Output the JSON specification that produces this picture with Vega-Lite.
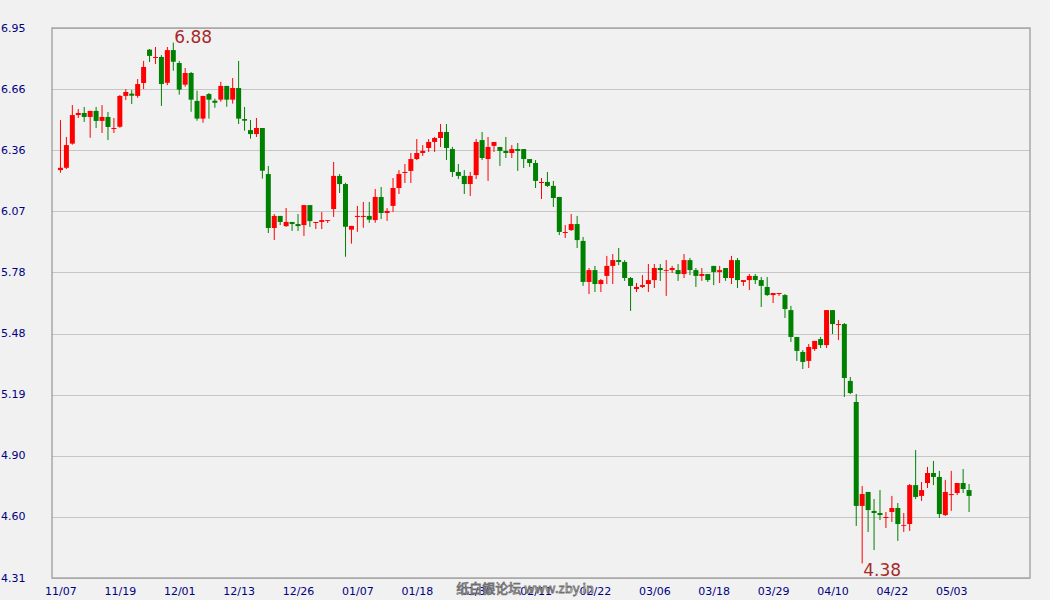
{
"$schema": "https://vega.github.io/schema/vega-lite/v6.json",
"width": 978, "height": 550,
"autosize": {"type": "none"},
"padding": {"left": 52, "top": 28, "right": 20, "bottom": 22},
"background": "#f1f1f1",
"config": {"view": {"stroke": "#a8a8a8", "strokeWidth": 1.5, "fill": "#f1f1f1"}, "font": "DejaVu Sans"},
"datasets": {"k": [
{"i":0,"o":6.268,"h":6.508,"l":6.255,"c":6.279},
{"i":1,"o":6.279,"h":6.427,"l":6.273,"c":6.388},
{"i":2,"o":6.395,"h":6.580,"l":6.390,"c":6.532},
{"i":3,"o":6.532,"h":6.561,"l":6.518,"c":6.542},
{"i":4,"o":6.542,"h":6.571,"l":6.499,"c":6.523},
{"i":5,"o":6.523,"h":6.552,"l":6.423,"c":6.552},
{"i":6,"o":6.552,"h":6.571,"l":6.470,"c":6.504},
{"i":7,"o":6.504,"h":6.580,"l":6.446,"c":6.523},
{"i":8,"o":6.523,"h":6.547,"l":6.412,"c":6.475},
{"i":9,"o":6.465,"h":6.518,"l":6.446,"c":6.470},
{"i":10,"o":6.476,"h":6.628,"l":6.471,"c":6.624},
{"i":11,"o":6.624,"h":6.657,"l":6.604,"c":6.643},
{"i":12,"o":6.635,"h":6.652,"l":6.585,"c":6.625},
{"i":13,"o":6.624,"h":6.705,"l":6.615,"c":6.681},
{"i":14,"o":6.686,"h":6.792,"l":6.657,"c":6.763},
{"i":15,"o":6.846,"h":6.849,"l":6.787,"c":6.816},
{"i":16,"o":6.806,"h":6.859,"l":6.777,"c":6.811},
{"i":17,"o":6.811,"h":6.820,"l":6.576,"c":6.681},
{"i":18,"o":6.687,"h":6.859,"l":6.676,"c":6.844},
{"i":19,"o":6.844,"h":6.880,"l":6.745,"c":6.788},
{"i":20,"o":6.782,"h":6.792,"l":6.630,"c":6.654},
{"i":21,"o":6.678,"h":6.758,"l":6.668,"c":6.734},
{"i":22,"o":6.734,"h":6.739,"l":6.548,"c":6.606},
{"i":23,"o":6.600,"h":6.649,"l":6.505,"c":6.515},
{"i":24,"o":6.515,"h":6.624,"l":6.495,"c":6.624},
{"i":25,"o":6.633,"h":6.638,"l":6.515,"c":6.606},
{"i":26,"o":6.601,"h":6.611,"l":6.567,"c":6.591},
{"i":27,"o":6.606,"h":6.692,"l":6.596,"c":6.672},
{"i":28,"o":6.672,"h":6.672,"l":6.572,"c":6.606},
{"i":29,"o":6.606,"h":6.710,"l":6.587,"c":6.662},
{"i":30,"o":6.662,"h":6.792,"l":6.489,"c":6.515},
{"i":31,"o":6.513,"h":6.571,"l":6.457,"c":6.505},
{"i":32,"o":6.460,"h":6.508,"l":6.419,"c":6.441},
{"i":33,"o":6.441,"h":6.518,"l":6.427,"c":6.470},
{"i":34,"o":6.470,"h":6.470,"l":6.227,"c":6.265},
{"i":35,"o":6.249,"h":6.288,"l":5.966,"c":5.990},
{"i":36,"o":5.990,"h":6.057,"l":5.932,"c":6.048},
{"i":37,"o":6.048,"h":6.048,"l":6.004,"c":6.019},
{"i":38,"o":5.999,"h":6.086,"l":5.995,"c":6.019},
{"i":39,"o":6.019,"h":6.019,"l":5.976,"c":6.009},
{"i":40,"o":6.009,"h":6.057,"l":5.976,"c":5.999},
{"i":41,"o":6.004,"h":6.100,"l":5.952,"c":6.100},
{"i":42,"o":6.100,"h":6.100,"l":5.995,"c":6.023},
{"i":43,"o":6.014,"h":6.019,"l":5.985,"c":6.019},
{"i":44,"o":6.019,"h":6.067,"l":5.985,"c":6.028},
{"i":45,"o":6.024,"h":6.028,"l":6.014,"c":6.028},
{"i":46,"o":6.081,"h":6.307,"l":6.043,"c":6.240},
{"i":47,"o":6.240,"h":6.249,"l":6.158,"c":6.201},
{"i":48,"o":6.201,"h":6.207,"l":5.852,"c":5.996},
{"i":49,"o":5.982,"h":6.000,"l":5.915,"c":6.000},
{"i":50,"o":6.043,"h":6.096,"l":5.972,"c":6.048},
{"i":51,"o":6.043,"h":6.115,"l":5.991,"c":6.048},
{"i":52,"o":6.048,"h":6.115,"l":6.015,"c":6.030},
{"i":53,"o":6.028,"h":6.177,"l":6.015,"c":6.139},
{"i":54,"o":6.139,"h":6.187,"l":6.033,"c":6.062},
{"i":55,"o":6.062,"h":6.086,"l":6.024,"c":6.072},
{"i":56,"o":6.096,"h":6.230,"l":6.067,"c":6.182},
{"i":57,"o":6.182,"h":6.268,"l":6.153,"c":6.249},
{"i":58,"o":6.254,"h":6.297,"l":6.206,"c":6.259},
{"i":59,"o":6.264,"h":6.350,"l":6.206,"c":6.321},
{"i":60,"o":6.321,"h":6.417,"l":6.316,"c":6.350},
{"i":61,"o":6.350,"h":6.388,"l":6.336,"c":6.360},
{"i":62,"o":6.374,"h":6.417,"l":6.355,"c":6.403},
{"i":63,"o":6.403,"h":6.427,"l":6.355,"c":6.422},
{"i":64,"o":6.422,"h":6.489,"l":6.379,"c":6.451},
{"i":65,"o":6.451,"h":6.489,"l":6.316,"c":6.374},
{"i":66,"o":6.369,"h":6.379,"l":6.235,"c":6.259},
{"i":67,"o":6.259,"h":6.297,"l":6.225,"c":6.240},
{"i":68,"o":6.240,"h":6.268,"l":6.153,"c":6.201},
{"i":69,"o":6.201,"h":6.259,"l":6.144,"c":6.240},
{"i":70,"o":6.244,"h":6.417,"l":6.225,"c":6.403},
{"i":71,"o":6.412,"h":6.451,"l":6.316,"c":6.326},
{"i":72,"o":6.321,"h":6.427,"l":6.216,"c":6.379},
{"i":73,"o":6.384,"h":6.403,"l":6.355,"c":6.403},
{"i":74,"o":6.379,"h":6.379,"l":6.288,"c":6.360},
{"i":75,"o":6.360,"h":6.427,"l":6.326,"c":6.350},
{"i":76,"o":6.350,"h":6.388,"l":6.326,"c":6.369},
{"i":77,"o":6.369,"h":6.398,"l":6.264,"c":6.360},
{"i":78,"o":6.369,"h":6.369,"l":6.278,"c":6.321},
{"i":79,"o":6.321,"h":6.321,"l":6.283,"c":6.302},
{"i":80,"o":6.302,"h":6.316,"l":6.182,"c":6.216},
{"i":81,"o":6.206,"h":6.230,"l":6.129,"c":6.211},
{"i":82,"o":6.211,"h":6.259,"l":6.187,"c":6.192},
{"i":83,"o":6.192,"h":6.216,"l":6.091,"c":6.134},
{"i":84,"o":6.139,"h":6.139,"l":5.956,"c":5.971},
{"i":85,"o":5.966,"h":6.004,"l":5.942,"c":5.971},
{"i":86,"o":5.980,"h":6.057,"l":5.976,"c":6.009},
{"i":87,"o":6.009,"h":6.048,"l":5.894,"c":5.932},
{"i":88,"o":5.928,"h":5.947,"l":5.712,"c":5.731},
{"i":89,"o":5.731,"h":5.798,"l":5.673,"c":5.788},
{"i":90,"o":5.788,"h":5.808,"l":5.683,"c":5.721},
{"i":91,"o":5.721,"h":5.745,"l":5.683,"c":5.740},
{"i":92,"o":5.760,"h":5.856,"l":5.721,"c":5.808},
{"i":93,"o":5.808,"h":5.865,"l":5.721,"c":5.836},
{"i":94,"o":5.836,"h":5.894,"l":5.812,"c":5.827},
{"i":95,"o":5.827,"h":5.836,"l":5.736,"c":5.750},
{"i":96,"o":5.750,"h":5.755,"l":5.592,"c":5.712},
{"i":97,"o":5.697,"h":5.726,"l":5.683,"c":5.707},
{"i":98,"o":5.707,"h":5.764,"l":5.702,"c":5.716},
{"i":99,"o":5.721,"h":5.817,"l":5.683,"c":5.740},
{"i":100,"o":5.740,"h":5.817,"l":5.702,"c":5.798},
{"i":101,"o":5.798,"h":5.817,"l":5.736,"c":5.788},
{"i":102,"o":5.784,"h":5.836,"l":5.664,"c":5.788},
{"i":103,"o":5.788,"h":5.808,"l":5.774,"c":5.798},
{"i":104,"o":5.788,"h":5.817,"l":5.736,"c":5.769},
{"i":105,"o":5.769,"h":5.865,"l":5.750,"c":5.836},
{"i":106,"o":5.836,"h":5.846,"l":5.764,"c":5.788},
{"i":107,"o":5.788,"h":5.798,"l":5.707,"c":5.760},
{"i":108,"o":5.760,"h":5.798,"l":5.736,"c":5.769},
{"i":109,"o":5.769,"h":5.769,"l":5.731,"c":5.740},
{"i":110,"o":5.808,"h":5.808,"l":5.716,"c":5.779},
{"i":111,"o":5.779,"h":5.808,"l":5.726,"c":5.788},
{"i":112,"o":5.798,"h":5.798,"l":5.736,"c":5.750},
{"i":113,"o":5.750,"h":5.856,"l":5.721,"c":5.836},
{"i":114,"o":5.836,"h":5.846,"l":5.702,"c":5.740},
{"i":115,"o":5.731,"h":5.740,"l":5.712,"c":5.740},
{"i":116,"o":5.740,"h":5.769,"l":5.692,"c":5.760},
{"i":117,"o":5.760,"h":5.769,"l":5.721,"c":5.740},
{"i":118,"o":5.740,"h":5.755,"l":5.611,"c":5.712},
{"i":119,"o":5.707,"h":5.755,"l":5.664,"c":5.668},
{"i":120,"o":5.668,"h":5.678,"l":5.630,"c":5.678},
{"i":121,"o":5.673,"h":5.678,"l":5.664,"c":5.678},
{"i":122,"o":5.668,"h":5.673,"l":5.558,"c":5.601},
{"i":123,"o":5.596,"h":5.616,"l":5.443,"c":5.467},
{"i":124,"o":5.467,"h":5.467,"l":5.352,"c":5.400},
{"i":125,"o":5.395,"h":5.404,"l":5.313,"c":5.347},
{"i":126,"o":5.352,"h":5.433,"l":5.318,"c":5.419},
{"i":127,"o":5.409,"h":5.448,"l":5.400,"c":5.448},
{"i":128,"o":5.457,"h":5.467,"l":5.414,"c":5.428},
{"i":129,"o":5.428,"h":5.596,"l":5.414,"c":5.596},
{"i":130,"o":5.596,"h":5.596,"l":5.481,"c":5.529},
{"i":131,"o":5.524,"h":5.548,"l":5.452,"c":5.529},
{"i":132,"o":5.529,"h":5.534,"l":5.179,"c":5.270},
{"i":133,"o":5.256,"h":5.275,"l":5.193,"c":5.198},
{"i":134,"o":5.155,"h":5.193,"l":4.560,"c":4.656},
{"i":135,"o":4.656,"h":4.752,"l":4.380,"c":4.713},
{"i":136,"o":4.723,"h":4.723,"l":4.531,"c":4.636},
{"i":137,"o":4.632,"h":4.689,"l":4.444,"c":4.622},
{"i":138,"o":4.622,"h":4.732,"l":4.588,"c":4.612},
{"i":139,"o":4.598,"h":4.627,"l":4.550,"c":4.603},
{"i":140,"o":4.627,"h":4.704,"l":4.579,"c":4.646},
{"i":141,"o":4.646,"h":4.670,"l":4.488,"c":4.569},
{"i":142,"o":4.560,"h":4.622,"l":4.531,"c":4.564},
{"i":143,"o":4.569,"h":4.761,"l":4.536,"c":4.756},
{"i":144,"o":4.756,"h":4.924,"l":4.689,"c":4.699},
{"i":145,"o":4.704,"h":4.771,"l":4.680,"c":4.732},
{"i":146,"o":4.766,"h":4.843,"l":4.742,"c":4.814},
{"i":147,"o":4.814,"h":4.872,"l":4.756,"c":4.795},
{"i":148,"o":4.795,"h":4.824,"l":4.598,"c":4.617},
{"i":149,"o":4.612,"h":4.781,"l":4.608,"c":4.723},
{"i":150,"o":4.708,"h":4.824,"l":4.632,"c":4.713},
{"i":151,"o":4.718,"h":4.766,"l":4.708,"c":4.766},
{"i":152,"o":4.766,"h":4.833,"l":4.718,"c":4.737},
{"i":153,"o":4.732,"h":4.761,"l":4.627,"c":4.704}
]},
"layer": [
{"data": {"name": "k"},
 "mark": {"type": "rule", "strokeWidth": 1},
 "encoding": {
  "x": {"field": "i", "type": "quantitative", "title": null,
   "scale": {"domain": [-0.5833, 162.4167], "nice": false, "zero": false},
   "axis": {"values": [0,10,20,30,40,50,60,70,80,90,100,110,120,130,140,150],
    "labelExpr": "['11/07','11/19','12/01','12/13','12/26','01/07','01/18','01/30','02/11','02/22','03/06','03/18','03/29','04/10','04/22','05/03'][round(datum.value/10)]",
    "grid": false, "ticks": false, "tickSize": 0, "domain": false, "labelPadding": 7, "labelDx": 2,
    "labelColor": "#000080", "labelFontSize": 11, "labelFont": "DejaVu Sans", "labelFlush": false, "labelOverlap": false}},
  "y": {"field": "l", "type": "quantitative", "title": null,
   "scale": {"domain": [4.31, 6.95], "nice": false, "zero": false},
   "axis": {"values": [4.31, 4.6033, 4.8967, 5.19, 5.4833, 5.7767, 6.07, 6.3633, 6.6567, 6.95], "format": ".2f",
    "grid": true, "gridColor": "#9a9a9a", "gridDash": [1, 1], "gridWidth": 1,
    "ticks": false, "tickSize": 0, "domain": false, "labelPadding": 27,
    "labelColor": "#000080", "labelFontSize": 11, "labelFont": "DejaVu Sans", "labelFlush": false, "labelOverlap": false}},
  "y2": {"field": "h"},
  "color": {"condition": {"test": "datum.c > datum.o", "value": "#ff0000"}, "value": "#008000"}
 }},
{"data": {"name": "k"},
 "mark": {"type": "bar", "size": 5},
 "encoding": {
  "x": {"field": "i", "type": "quantitative", "title": null},
  "y": {"field": "o", "type": "quantitative", "title": null},
  "y2": {"field": "c"},
  "color": {"condition": {"test": "datum.c > datum.o", "value": "#ff0000"}, "value": "#008000"}
 }},
{"data": {"values": [{"i": 19, "v": 6.88, "t": "6.88"}]},
 "mark": {"type": "text", "align": "left", "baseline": "alphabetic", "dx": 1, "fontSize": 17, "font": "DejaVu Sans", "color": "#a52a2a"},
 "encoding": {"x": {"field": "i", "type": "quantitative", "title": null}, "y": {"field": "v", "type": "quantitative", "title": null}, "text": {"field": "t"}}},
{"data": {"values": [{"i": 135, "v": 4.38, "t": "4.38"}]},
 "mark": {"type": "text", "align": "left", "baseline": "top", "dx": 1, "fontSize": 17, "font": "DejaVu Sans", "color": "#a52a2a"},
 "encoding": {"x": {"field": "i", "type": "quantitative", "title": null}, "y": {"field": "v", "type": "quantitative", "title": null}, "text": {"field": "t"}}},
{"data": {"values": [{"t": "纸白银论坛 www.zby.in"}]},
 "mark": {"type": "text", "align": "center", "baseline": "middle", "fontSize": 13, "font": "Noto Sans CJK SC", "fill": "#ffffff", "stroke": "#707070", "strokeWidth": 0.8},
 "encoding": {"x": {"datum": 78.25, "type": "quantitative"}, "y": {"datum": 4.257, "type": "quantitative"}, "text": {"field": "t"}}}
]
}
